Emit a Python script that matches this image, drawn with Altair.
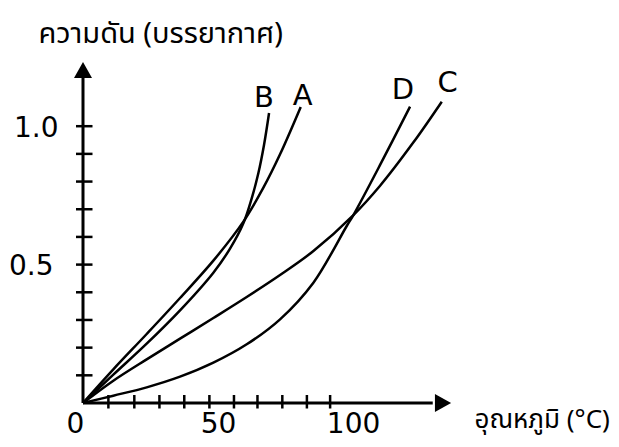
import altair as alt
import pandas as pd

# ---- data (temperature °C, pressure atm) ----
a_t = [0, 11.23, 23.58, 35.93, 48.27, 59.38, 66.79, 72.96, 80.62]
a_p = [0, 0.1216, 0.2493, 0.3793, 0.5142, 0.6551, 0.7779, 0.8984, 1.0694]
b_t = [0, 11.23, 23.58, 35.93, 48.27, 54.44, 59.38, 62.47, 64.94, 67.04, 68.89]
b_p = [0, 0.1024, 0.2143, 0.3348, 0.4709, 0.5576, 0.6491, 0.7394, 0.8309, 0.9333, 1.0477]
c_t = [0, 11.23, 23.58, 35.93, 48.27, 60.62, 72.96, 85.31, 100.12, 110.0, 122.35, 132.84]
c_p = [0, 0.0807, 0.1578, 0.2324, 0.3071, 0.383, 0.4624, 0.549, 0.679, 0.785, 0.9417, 1.0886]
d_t = [0, 11.23, 23.58, 35.93, 48.27, 60.62, 72.96, 85.31, 97.65, 100.12, 110.0, 121.1]
d_p = [0, 0.0265, 0.0566, 0.0951, 0.1457, 0.212, 0.3023, 0.4347, 0.6395, 0.679, 0.86, 1.0706]

label_names = ["B", "A", "D", "C"]
label_t = [67.0, 81.3, 118.5, 135.0]
label_p = [1.069, 1.077, 1.098, 1.125]

y_tick_values = [0.1, 0.2, 0.3, 0.4, 0.5, 0.6, 0.7, 0.8, 0.9, 1.0]
x_tick_values = [9.4, 19.0, 28.3, 37.5, 46.8, 55.9, 64.6, 73.8, 82.9, 91.5]
y_label_values = [0.5, 1.0]
x_label_values = [0, 50, 100]

y_title = "ความดัน (บรรยากาศ)"
x_title = "อุณหภูมิ (°C)"

# ---- tables ----
rows = []
for name, ts, ps in [("A", a_t, a_p), ("B", b_t, b_p), ("C", c_t, c_p), ("D", d_t, d_p)]:
    for t, p in zip(ts, ps):
        rows.append({"curve": name, "t": t, "p": p})
curves = pd.DataFrame(rows)
labels = pd.DataFrame({"name": label_names, "t": label_t, "p": label_p})
yticks = pd.DataFrame({"p": y_tick_values})
xticks = pd.DataFrame({"t": x_tick_values})
axes_lines = pd.DataFrame({"t": [0, 0], "p": [0, 0], "t2": [0, 129.5], "p2": [1.18, 0]})
arrow_up = pd.DataFrame({"t": [0], "p": [1.203]})
arrow_right = pd.DataFrame({"t": [133.3], "p": [0]})

FONT = "DejaVu Sans"
THAI = "Noto Sans Thai, Noto Sans Thai Looped, Loma, Garuda, Tlwg Typo, Noto Sans, DejaVu Sans, sans-serif"

xs = alt.Scale(domain=[0, 137], nice=False, zero=False)
ys = alt.Scale(domain=[0, 1.25], nice=False, zero=False)

x_axis = alt.Axis(
    values=x_label_values, ticks=False, tickSize=0, domain=False, grid=False,
    labelFont=FONT, labelFontSize=28, labelColor="black", labelPadding=7,
    labelFlush=False, labelOverlap=False,
    labelOffset={"condition": {"test": "datum.value === 0", "value": -8}, "value": 0},
    title=x_title, titleFont=THAI, titleFontSize=26, titleFontWeight="normal",
    titleColor="black", titleAngle=0, titleAlign="left", titleBaseline="alphabetic",
    titleX=391, titleY=24,
)
y_axis = alt.Axis(
    values=y_label_values, format=".1f", ticks=False, tickSize=0, domain=False, grid=False,
    labelFont=FONT, labelFontSize=28, labelColor="black",
    labelPadding={"condition": {"test": "datum.value === 0.5", "value": 30}, "value": 25},
    labelFlush=False, labelOverlap=False, labelOffset=2,
    title=y_title, titleFont=THAI, titleFontSize=29, titleFontWeight="normal",
    titleColor="black", titleAngle=0, titleAlign="left", titleBaseline="alphabetic",
    titleX=-45, titleY=-15,
)

X = alt.X("t:Q", scale=xs, axis=x_axis)
Y = alt.Y("p:Q", scale=ys, axis=y_axis)

lines = alt.Chart(curves).mark_line(
    color="black", strokeWidth=2.5, interpolate="catmull-rom"
).encode(x=X, y=Y, detail="curve:N", order="t:Q")

text = alt.Chart(labels).mark_text(
    font=FONT, fontSize=29, color="black", align="center", baseline="alphabetic"
).encode(x=X, y=Y, text="name:N")

ytick_marks = alt.Chart(yticks).mark_rule(color="black", strokeWidth=2.5).encode(
    y=Y, x=alt.value(-7), x2=alt.value(9.5),
)
xtick_marks = alt.Chart(xticks).mark_rule(color="black", strokeWidth=2.5).encode(
    x=X, y=alt.value(338), y2=alt.value(351.5),
)
axis_marks = alt.Chart(axes_lines).mark_rule(color="black", strokeWidth=3).encode(
    x=X, y=Y, x2="t2:Q", y2="p2:Q",
)
up = alt.Chart(arrow_up).mark_point(
    shape="M-1,0.9L1,0.9L0,-0.9Z", filled=True, size=324, color="black", opacity=1, strokeWidth=0
).encode(x=X, y=Y)
right = alt.Chart(arrow_right).mark_point(
    shape="M-0.9,-1L0.9,0L-0.9,1Z", filled=True, size=324, color="black", opacity=1, strokeWidth=0
).encode(x=X, y=Y)

chart = alt.layer(lines, axis_marks, ytick_marks, xtick_marks, up, right, text).properties(
    width=370, height=346,
    padding={"left": 75, "top": 49, "right": 158, "bottom": 36},
    autosize=alt.AutoSizeParams(type="none"),
    background="white",
).configure_view(stroke=None)

chart.save("out.html", embed_options={"renderer": "svg", "actions": False})
